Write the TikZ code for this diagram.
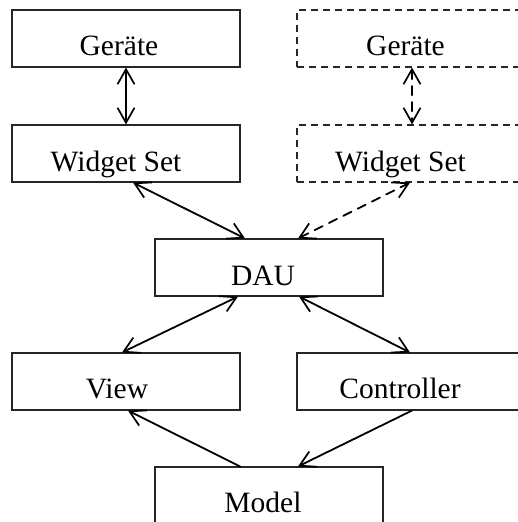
\documentclass[tikz,border=0pt]{standalone}
\usepackage{fontspec}
\setmainfont{Liberation Serif}
\usetikzlibrary{arrows.meta,calc}

\tikzset{
  box/.style={draw=black!85, line width=1.1pt, rectangle,
    minimum width=228pt, minimum height=57pt, inner sep=0pt},
  dbox/.style={box, dash pattern=on 7pt off 5pt},
  lbl/.style={anchor=base, inner sep=0pt,
    font=\fontsize{29.5}{32}\selectfont},
  link/.style={line width=1.8pt, line cap=round},
  both/.style={link, {Straight Barb[length=15pt,width=17pt,line width=1.7pt]}-{Straight Barb[length=15pt,width=17pt,line width=1.7pt]}},
  one/.style={link, -{Straight Barb[length=15pt,width=17pt,line width=1.7pt]}},
  dlink/.style={dash pattern=on 9pt off 7pt},
}

\begin{document}
\begin{tikzpicture}[x=1pt,y=-1pt]
  \clip (0,0) rectangle (518,522);

  % boxes
  \node[box]  (geraeteA) at (126,38.5)  {};
  \node[box]  (widgetA)  at (126,153.5) {};
  \node[dbox] (geraeteB) at (411,38.5)  {};
  \node[dbox] (widgetB)  at (411,153.5) {};
  \node[box]  (dau)      at (269,267.5) {};
  \node[box]  (view)     at (126,381.5) {};
  \node[box]  (ctrl)     at (411,381.5) {};
  \node[box]  (model)    at (269,495.5) {};

  % labels
  \node[lbl] at ($(geraeteA.north)+(-7,46)$)  {Geräte};
  \node[lbl] at ($(widgetA.north)+(-10,47)$)  {Widget Set};
  \node[lbl] at ($(geraeteB.north)+(-5.5,46)$) {Geräte};
  \node[lbl] at ($(widgetB.north)+(-10.5,47)$) {Widget Set};
  \node[lbl] at ($(dau.north)+(-6,47)$)       {DAU};
  \node[lbl] at ($(view.north)+(-9,46)$)      {View};
  \node[lbl] at ($(ctrl.north)+(-11,46)$)     {Controller};
  \node[lbl] at ($(model.north)+(-6,46)$)     {Model};

  % connectors
  \draw[both] (geraeteA.south) -- (widgetA.north);
  \draw[both,dlink] ($(geraeteB.south)+(1,0)$) -- ($(widgetB.north)+(1,0)$);
  \draw[both] ($(widgetA.south)+(7,0)$) -- ($(dau.north)+(-24,0)$);
  \draw[both,dlink] ($(dau.north)+(29,0)$) -- ($(widgetB.south)+(-1,0)$);
  \draw[both] ($(dau.south)+(-31,0)$) -- ($(view.north)+(-4,0)$);
  \draw[both] ($(dau.south)+(30,0)$) -- ($(ctrl.north)+(-1,0)$);
  \draw[one] ($(model.north)+(-29,0)$) -- ($(view.south)+(2,0)$);
  \draw[one] ($(ctrl.south)+(1,0)$) -- ($(model.north)+(29,0)$);
\end{tikzpicture}
\end{document}
